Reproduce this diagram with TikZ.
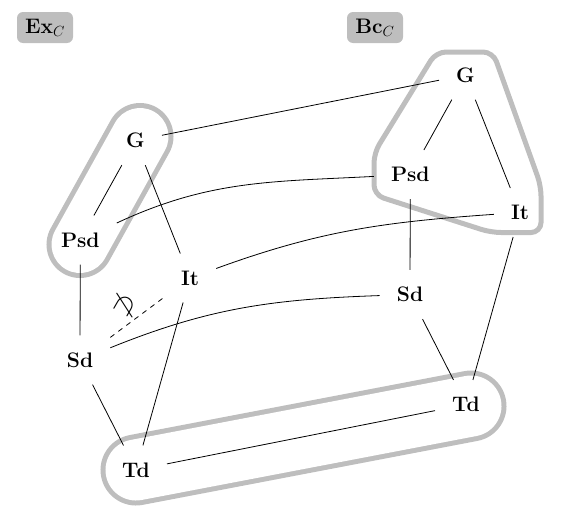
\RequirePackage{fix-cm}
\documentclass[tikz,border=0pt]{standalone}
\definecolor{hl}{HTML}{BEBEBE}
\tikzset{
  v/.style={font=\fontsize{21}{25}\selectfont\bfseries, inner sep=17pt},
  edge/.style={line width=0.8pt},
  hull/.style={draw=hl, line width=5pt},
  tag/.style={fill=hl, rounded corners=6pt, minimum width=56pt, minimum height=31pt, inner sep=0pt, font=\fontsize{21}{25}\selectfont},
}
\begin{document}
\begin{tikzpicture}[x=1pt,y=1pt]
\useasboundingbox (0,0) rectangle (561,-525);
% hulls
\draw[hull, double=white, double distance=57pt, line cap=round] (140,-136.5) -- (80,-244.5);
\draw[hull, double=white, double distance=61pt, line cap=round] (136,-470) -- (471,-406);
\draw[hull, rounded corners=10pt] (436,-52) -- (493,-52) -- (541,-186) -- (541,-232.5) -- (491,-232.5) -- (374,-195) -- (374,-153) -- cycle;
% tags
\node[tag] (ex) at (45,-27.5) {\textbf{Ex}$_C$};
\node[tag] (bc) at (375,-27.5) {\textbf{Bc}$_C$};
% left nodes
\node[v] (lG) at (135.5,-140.5) {G};
\node[v] (lPsd) at (80.3,-240) {Psd};
\node[v] (lIt) at (190,-278) {It};
\node[v] (lSd) at (80,-360) {Sd};
\node[v] (lTd) at (136,-470) {Td};
% right nodes
\node[v] (rG) at (465.5,-75) {G};
\node[v] (rPsd) at (410.3,-174.5) {Psd};
\node[v] (rIt) at (520,-212.5) {It};
\node[v] (rSd) at (410,-294.5) {Sd};
\node[v] (rTd) at (466,-404.5) {Td};
% left edges
\draw[edge] (lG) -- (lPsd);
\draw[edge] (lG) -- (lIt);
\draw[edge] (lPsd) -- (lSd);
\draw[edge] (lSd) -- (lTd);
\draw[edge] (lIt) -- (lTd);
\draw[edge, dash pattern=on 5pt off 5pt] (lSd) -- (lIt);
\node[rotate=60, inner sep=0pt, font=\fontsize{28}{32}\selectfont] (ni) at (125,-306) {$\not\supset$};
% right edges
\draw[edge] (rG) -- (rPsd);
\draw[edge] (rG) -- (rIt);
\draw[edge] (rPsd) -- (rSd);
\draw[edge] (rSd) -- (rTd);
\draw[edge] (rIt) -- (rTd);
% cross edges
\draw[edge] (lG) -- (rG);
\draw[edge] (lPsd) to[out=25,in=183] (rPsd);
\draw[edge] (lIt) to[out=20,in=184] (rIt);
\draw[edge] (lSd) to[out=22,in=182] (rSd);
\draw[edge] (lTd) -- (rTd);
\end{tikzpicture}
\end{document}
